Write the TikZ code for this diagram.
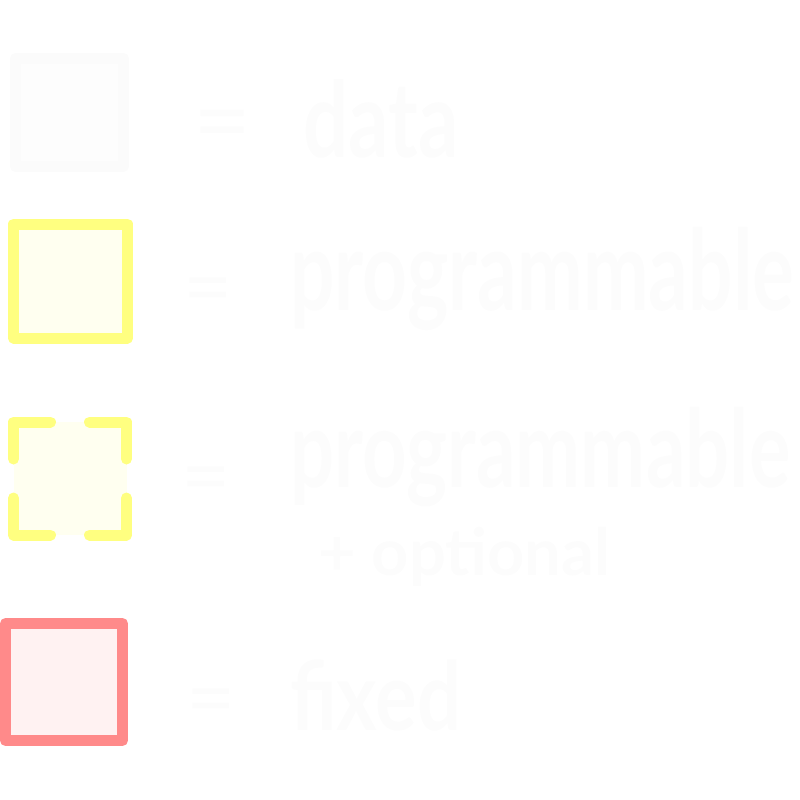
\documentclass[tikz,border=0pt]{standalone}
\usepackage{fontspec}
\setmainfont{Lato}
\usepackage{tikz}
\definecolor{faint}{HTML}{FCFCFC}
\definecolor{datafill}{HTML}{FDFDFD}
\definecolor{datadraw}{HTML}{FBFBFB}
\definecolor{progdraw}{HTML}{FFFF80}
\definecolor{progfill}{HTML}{FFFFF0}
\definecolor{fixdraw}{HTML}{FF8A8A}
\definecolor{fixfill}{HTML}{FFF2F2}

\begin{document}
\begin{tikzpicture}[x=1pt,y=-1pt,
		key/.style={minimum size=#1, inner sep=0pt, line width=11pt, line join=round},
		word/.style={text=faint, inner sep=0pt, anchor=base west},
		eq/.style={text=faint, inner sep=0pt, anchor=base}]
	\useasboundingbox (0,0) rectangle (800,800);
	\node[key=108pt, draw=datadraw, fill=datafill] (data) at (69.5,112.5) {};
	\node[key=114pt, draw=progdraw, fill=progfill] (prog) at (70.5,281) {};
	\node[key=113pt, draw=progdraw, fill=progfill, line cap=round,
		dash pattern=on 74pt off 39pt, dash phase=37pt] (opt) at (70,478.5) {};
	\node[key=117pt, draw=fixdraw, fill=fixfill] (fixed) at (64,682) {};
	\foreach \x/\y/\s [count=\i] in {222/155/100, 208/316/85, 206/505/85, 211/727/85}
		\node[eq, font=\fontsize{\s}{\s}\selectfont] (eq-\i) at (\x,\y) {=};
	\node[word, font=\fontsize{105}{105}\selectfont\bfseries, xscale=0.76] (data-text) at (303,157) {data};
	\node[word, font=\fontsize{112}{112}\selectfont\bfseries, xscale=0.70] (prog-text) at (290,310) {programmable};
	\node[word, font=\fontsize{108}{108}\selectfont\bfseries, xscale=0.72] (opt-text) at (290,487) {programmable};
	\node[word, font=\fontsize{65}{65}\selectfont\bfseries, xscale=1.0] (opt-sub) at (318,575) {+ optional};
	\node[word, font=\fontsize{95}{95}\selectfont\bfseries, xscale=0.82] (fixed-text) at (290,730) {f{}ixed};
\end{tikzpicture}
\end{document}
